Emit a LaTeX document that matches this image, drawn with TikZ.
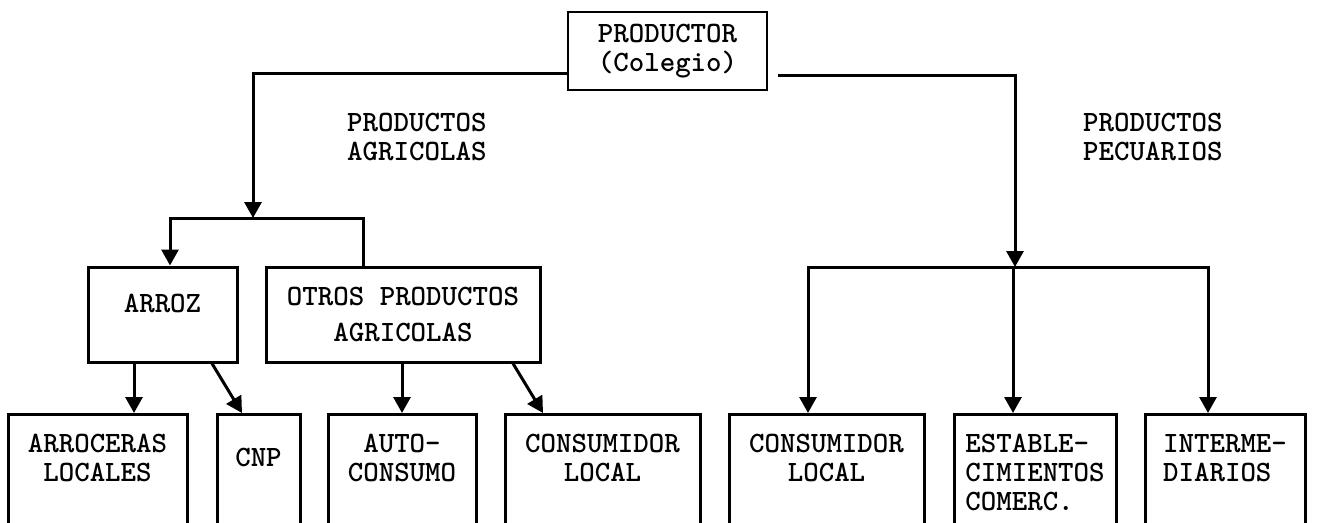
\documentclass[tikz,border=0pt]{standalone}
\usepackage{fontspec}
\usetikzlibrary{arrows.meta}

\begin{document}
\begin{tikzpicture}[
    x=1pt, y=-1pt,
    every node/.style={font=\fontsize{29.5}{29}\selectfont\ttfamily\bfseries},
    box/.style={draw, line width=3pt, align=center},
    leaf/.style={box, anchor=north, inner ysep=20pt, text depth=160pt},
    line/.style={line width=3pt, line cap=rect},
    arrow/.style={line width=3pt, -{Triangle[width=17pt,length=16pt]}}
]
    \useasboundingbox (0,0) rectangle (1319,522);
    \clip (0,0) rectangle (1319,522);

    % --- Productor ---
    \node[box, line width=2.5pt, minimum width=199pt, minimum height=78pt] (prod) at (667.5,51) {PRODUCTOR\\(Colegio)};

    % Labels
    \node[anchor=north west, inner sep=0pt, align=left] (agr) at (347,113) {PRODUCTOS\\AGRICOLAS};
    \node[anchor=north west, inner sep=0pt, align=left] (pec) at (1083,113) {PRODUCTOS\\PECUARIOS};

    % --- Productos agricolas ---
    \node[box, minimum width=149pt, minimum height=95pt, text depth=22pt] (arroz) at (162.5,314.5) {ARROZ};
    \node[box, minimum width=274pt, minimum height=95pt] (otros) at (403,314.5) {OTROS PRODUCTOS\\[7pt]AGRICOLAS};

    % Destinos
    \node[leaf, minimum width=179pt] (arroc) at (97.5,413) {ARROCERAS\\LOCALES};
    \node[leaf, minimum width=83pt, inner ysep=34pt] (cnp) at (258.5,413) {CNP};
    \node[leaf, minimum width=148pt] (auto) at (402,413) {AUTO-\\CONSUMO};
    \node[leaf, minimum width=195pt] (consa) at (602.5,413) {CONSUMIDOR\\LOCAL};

    % --- Productos pecuarios ---
    \node[leaf, minimum width=195pt] (consp) at (826.5,413) {CONSUMIDOR\\LOCAL};
    \node[leaf, minimum width=162pt, align=left] (estab) at (1035,413) {ESTABLE-\\CIMIENTOS\\COMERC.};
    \node[leaf, minimum width=160pt, align=left] (inter) at (1225,413) {INTERME-\\DIARIOS};

    % --- Connectors ---
    \coordinate (ja) at (253,218);
    \coordinate (jp) at (1015,267);
    \draw[arrow] (prod.west |- 0,73) -| (ja);
    \draw[arrow, shorten <=10pt] (prod.east |- 0,75) -| (jp);

    % left bar
    \coordinate (la) at (170,218);
    \coordinate (lo) at (363,218);
    \draw[line] (la) -- (lo) -- (lo |- otros.north);
    \draw[arrow] (la) -- (la |- arroz.north);

    % right bar
    \coordinate (ra) at (808,267);
    \coordinate (rb) at (1013,267);
    \coordinate (rc) at (1208,267);
    \draw[line] (ra) -- (rc);
    \foreach \c/\n in {ra/consp, rb/estab, rc/inter}
        \draw[arrow] (\c) -- (\c |- \n.north);

    % arroz / otros
    \draw[arrow] (arroz.south -| 134,0) -- (arroc.north -| 134,0);
    \draw[arrow] (arroz.south -| 212,0) -- (cnp.north -| 242,0);
    \draw[arrow] (otros.south -| 402,0) -- (auto.north);
    \draw[arrow] (otros.south -| 513,0) -- (consa.north -| 543,0);

\end{tikzpicture}
\end{document}
